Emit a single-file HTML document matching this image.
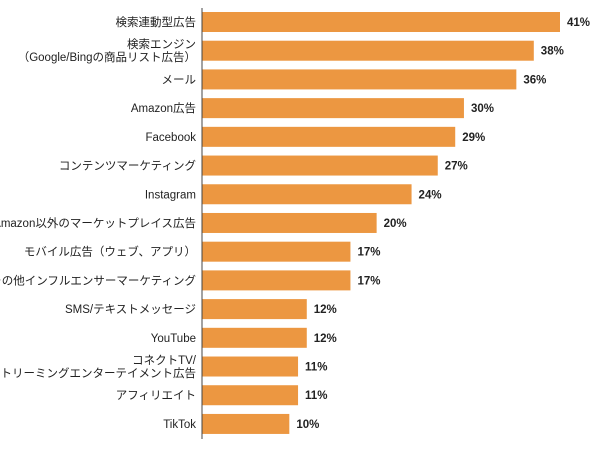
<!DOCTYPE html>
<html><head><meta charset="utf-8"><style>
body{margin:0;background:#fff;width:600px;height:452px;overflow:hidden}
svg{font-family:"Liberation Sans","Noto Sans CJK JP",sans-serif}
</style></head><body>
<svg id="chart" width="600" height="452" xmlns="http://www.w3.org/2000/svg"></svg>
<script>
const categories=[["検索連動型広告"],["検索エンジン","（Google/Bingの商品リスト広告）"],["メール"],["Amazon広告"],["Facebook"],["コンテンツマーケティング"],["Instagram"],["Amazon以外のマーケットプレイス広告"],["モバイル広告（ウェブ、アプリ）"],["その他インフルエンサーマーケティング"],["SMS/テキストメッセージ"],["YouTube"],["コネクトTV/","ストリーミングエンターテイメント広告"],["アフィリエイト"],["TikTok"]];
const values=[41,38,36,30,29,27,24,20,17,17,12,12,11,11,10];
const valueLabels=values.map(v=>v+"%");
const svg=document.getElementById('chart');
const NS="http://www.w3.org/2000/svg";
const x0=202,scale=358/41,top0=12,pitch=28.71,bh=20;
const xs=v=>x0+v*scale;
const ys=i=>top0+i*pitch;
function mk(t,a){const e=document.createElementNS(NS,t);for(const k in a)e.setAttribute(k,a[k]);svg.appendChild(e);return e;}
values.forEach((v,i)=>{
  const r=mk('rect',{x:x0,y:ys(i),width:xs(v)-x0,height:bh,fill:'#ec9741'});
  
  
  const t=mk('text',{x:xs(v)+7,y:ys(i)+bh/2+4,'font-size':'11.5','font-weight':'bold',fill:'#222'});
  t.textContent=valueLabels[i];
  
  
  const lines=categories[i];
  lines.forEach((l,j)=>{
    const cy=ys(i)+bh/2+4+(j-(lines.length-1)/2)*13;
    const c=mk('text',{x:196,y:cy,'text-anchor':'end','font-size':'11.5',fill:'#222'});
    c.textContent=l;
    
    
  });
});
const ax=mk('line',{x1:x0,y1:8,x2:x0,y2:439,stroke:'#444','stroke-width':1});


</script>
</body></html>
